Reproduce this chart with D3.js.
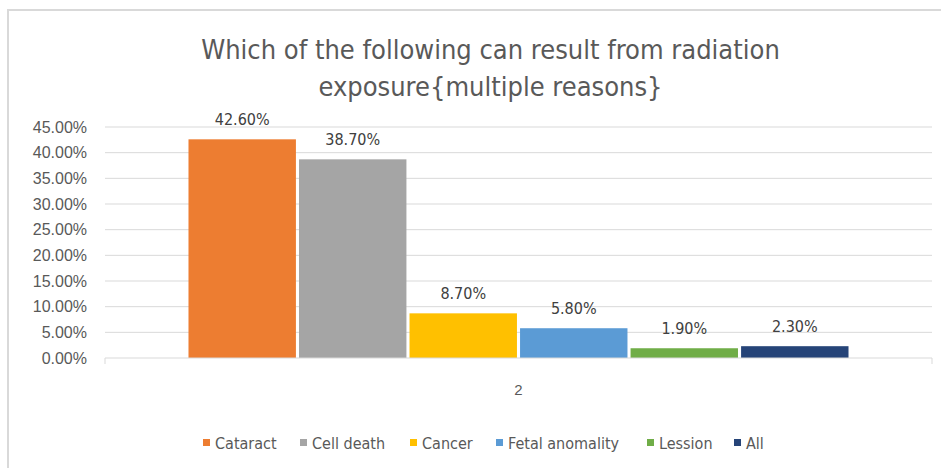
<!DOCTYPE html>
<html><head><meta charset="utf-8">
<script src="https://cdn.jsdelivr.net/npm/d3@7"></script>
<style>body{margin:0;background:#fff;}svg{display:block;font-family:"Liberation Sans Narrow","DejaVu Sans Condensed","Open Sans",sans-serif;}</style>
</head><body>
<svg id="c" width="941" height="468"></svg>
<script>
const categories = ["2"];
const seriesNames = ["Cataract","Cell death","Cancer","Fetal anomality","Lession","All"];
const seriesValues = [42.6, 38.7, 8.7, 5.8, 1.9, 2.3];
const seriesColors = ["#ED7D31","#A5A5A5","#FFC000","#5B9BD5","#70AD47","#264478"];
const yTicks = [0,5,10,15,20,25,30,35,40,45];
const titleLines = ["Which of the following can result from radiation","exposure{multiple reasons}"];

const svg = d3.select("#c");
// frame
svg.append("rect").attr("x",8).attr("y",10).attr("width",960).attr("height",500)
  .attr("fill","#fff").attr("stroke","#D9D9D9").attr("stroke-width",2);

const m = {left:105, right:932, top:127, bottom:358};
const y = d3.scaleLinear().domain([0,45]).range([m.bottom, m.top]);
const x0 = d3.scaleBand().domain(categories).range([m.left, m.right]).paddingInner(0).paddingOuter(0.1265);

// gridlines
svg.append("g").selectAll("line").data(yTicks.filter(d=>d>0)).join("line")
  .attr("x1",m.left).attr("x2",m.right).attr("y1",d=>y(d)).attr("y2",d=>y(d))
  .attr("stroke","#D9D9D9").attr("stroke-width",1);

// y axis labels
const yAxis = d3.axisLeft(y).tickValues(yTicks).tickFormat(d=>d3.format(".2f")(d)+"%").tickSize(0).tickPadding(18);
const ga = svg.append("g").attr("transform",`translate(${m.left},0)`).call(yAxis);
ga.select(".domain").remove();
ga.selectAll("text").attr("fill","#595959").style("font-size","16px").style("font-family","inherit");

// bars
const bandStart = x0("2"), bw = x0.bandwidth();
const bx = d3.scaleBand().domain(seriesNames).range([bandStart, bandStart+bw]).paddingInner(0.028);
const data = seriesNames.map((n,i)=>({n, v:seriesValues[i], c:seriesColors[i]}));
svg.append("g").selectAll("rect").data(data).join("rect")
  .attr("x",d=>bx(d.n)).attr("width",bx.bandwidth())
  .attr("y",d=>y(d.v)).attr("height",d=>y(0)-y(d.v)).attr("fill",d=>d.c);

// data labels
svg.append("g").selectAll("text").data(data).join("text")
  .attr("x",d=>bx(d.n)+bx.bandwidth()/2).attr("y",d=>y(d.v)-14)
  .attr("text-anchor","middle").attr("fill","#404040").style("font-size","16px")
  .text(d=>d3.format(".2f")(d.v)+"%");

// x axis
const xAxis = d3.axisBottom(x0).tickSize(0).tickPadding(26);
const gx = svg.append("g").attr("transform",`translate(0,${m.bottom})`).call(xAxis);
gx.select(".domain").attr("stroke","#D9D9D9").attr("d",`M${m.left},6V0H${m.right}V6`);
gx.selectAll("text").attr("fill","#595959").style("font-size","15px").style("font-family","inherit");

// title
svg.append("g").selectAll("text").data(titleLines).join("text")
  .attr("x",(m.left+m.right)/2 - 28).attr("y",(d,i)=>59+i*37).attr("text-anchor","middle")
  .attr("fill","#595959").style("font-size","27px").text(d=>d);

// legend
const legX = [203,300,410,496,647,734];
const lg = svg.append("g").selectAll("g").data(data).join("g")
  .attr("transform",(d,i)=>`translate(${legX[i]},443)`);
lg.append("rect").attr("x",0).attr("y",-4).attr("width",7).attr("height",7).attr("fill",d=>d.c);
lg.append("text").attr("x",12).attr("y",6).attr("fill","#595959").style("font-size","16px").text(d=>d.n);
</script>
</body></html>
